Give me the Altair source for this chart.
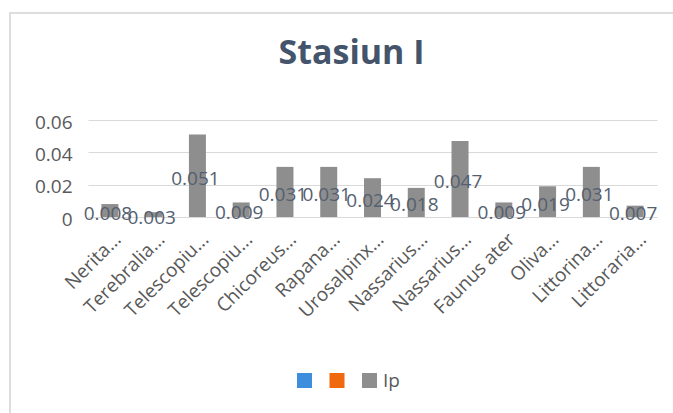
import json
import altair as alt
import pandas as pd

species = ["Nerita...", "Terebralia...", "Telescopiu...", "Telescopiu...",
           "Chicoreus...", "Rapana...", "Urosalpinx...", "Nassarius...",
           "Nassarius...", "Faunus ater", "Oliva...", "Littorina...", "Littoraria..."]
ip_values = [0.008, 0.003, 0.051, 0.009, 0.031, 0.031, 0.024, 0.018,
             0.047, 0.009, 0.019, 0.031, 0.007]
series_names = ["Series1", "Series2", "Ip"]
series_colors = ["#3d8fdd", "#f0690f", "#8e8e8e"]
y_ticks = [0, 0.02, 0.04, 0.06]

df = pd.DataFrame({"idx": list(range(len(species))), "species": species, "Ip": ip_values})
df["series"] = "Ip"
df["mid"] = df["Ip"] / 2

FONT = "Open Sans"
TXT = "#595959"

label_expr = json.dumps(species) + "[toNumber(datum.value)]"

x_axis = alt.Axis(labelExpr=label_expr, labelAngle=-45, labelAlign="right",
                  labelBaseline="middle", labelPadding=19, labelOffset=8,
                  labelFontSize=19, labelFont=FONT, labelColor=TXT, ticks=False,
                  domainColor="#d9d9d9", domainWidth=1, grid=False)
y_axis = alt.Axis(values=y_ticks, format="~g", labelFontSize=19, labelFont=FONT,
                  labelColor=TXT, labelPadding=16, labelOffset=2, ticks=False,
                  domain=False, grid=True, gridColor="#d9d9d9", gridWidth=1,
                  labelOverlap=False)
x_scale = alt.Scale(paddingInner=0, paddingOuter=0)
y_scale = alt.Scale(domain=[0, 0.06], nice=False)

base = alt.Chart(df)

bars = base.mark_bar(size=17).encode(
    x=alt.X("idx:O", title=None, scale=x_scale, axis=x_axis),
    y=alt.Y("Ip:Q", title=None, scale=y_scale, axis=y_axis),
    color=alt.Color("series:N", title=None,
                    scale=alt.Scale(domain=series_names, range=series_colors),
                    legend=alt.Legend(orient="none", legendX=207, legendY=251,
                                      direction="horizontal", symbolType="square",
                                      symbolSize=225, symbolStrokeWidth=0,
                                      labelExpr="datum.label == 'Ip' ? 'Ip' : ''",
                                      labelFontSize=19, labelFont=FONT, labelColor=TXT,
                                      labelOffset=4, columnPadding=9.5, padding=0,
                                      gridAlign="none")),
)

labels = base.mark_text(
    font=FONT, fontSize=19, color="#546070", baseline="middle", dy=3, dx=-2
).encode(
    x=alt.X("idx:O", title=None, scale=x_scale, axis=x_axis),
    y=alt.Y("mid:Q", title=None, scale=y_scale, axis=y_axis),
    text=alt.Text("Ip:Q", format=".3f"),
)

frame_left = alt.Chart(df).mark_rule(color="#dcdcdc", strokeWidth=1.5).encode(
    x=alt.value(-78), y=alt.value(-108), y2=alt.value(300))
frame_top = alt.Chart(df).mark_rule(color="#dcdcdc", strokeWidth=1.5).encode(
    x=alt.value(-78), x2=alt.value(600), y=alt.value(-107))

chart = alt.layer(frame_left, frame_top, bars, labels).properties(
    width=569, height=97,
    background="white",
    autosize=alt.AutoSizeParams(type="none"),
    padding={"left": 88, "top": 120, "right": 16, "bottom": 196},
    title=alt.TitleParams("Stasiun I", fontSize=34, fontWeight="bold", color="#44546a",
                          font=FONT, anchor="middle", dx=-21, offset=0, dy=87,
                          baseline="alphabetic"),
).configure_view(stroke=None)

chart.save("out.html", embed_options={"renderer": "svg", "actions": False})
